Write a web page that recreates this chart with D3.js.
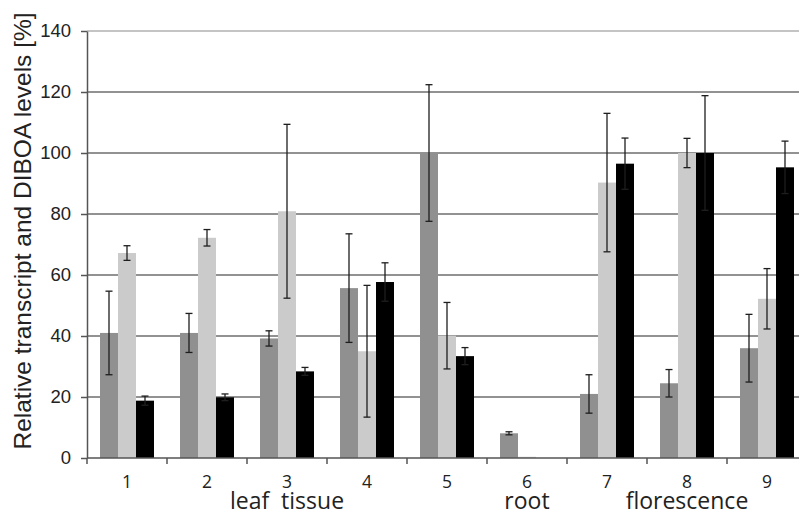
<!DOCTYPE html>
<html>
<head>
<meta charset="utf-8">
<script src="https://cdn.jsdelivr.net/npm/d3@7"></script>
<style>
  body { margin: 0; background: #fff; }
</style>
</head>
<body>
<div id="chart"></div>
<script>
var categories = ["1", "2", "3", "4", "5", "6", "7", "8", "9"];
var seriesNames = ["dark", "light", "black"];

var darkValues = [41, 41, 39.2, 55.7, 100, 8.1, 21, 24.5, 36];
var lightValues = [67.2, 72.2, 80.9, 35, 40.1, 0.4, 90.3, 100, 52.2];
var blackValues = [18.8, 19.9, 28.4, 57.7, 33.4, 0, 96.5, 100, 95.3];

var darkErrors = [13.7, 6.4, 2.5, 17.8, 22.4, 0.5, 6.3, 4.5, 11.1];
var lightErrors = [2.4, 2.7, 28.5, 21.6, 10.9, 0, 22.7, 4.8, 9.9];
var blackErrors = [1.5, 1.1, 1.3, 6.3, 2.8, 0, 8.4, 18.8, 8.6];

var yTicks = [0, 20, 40, 60, 80, 100, 120, 140];

var groupLabels = [
  { text: "leaf  tissue", cat: "3" },
  { text: "root", cat: "6" },
  { text: "florescence", cat: "8" }
];

var width = 799, height = 513;
var plotLeft = 87, plotTop = 31, plotBottom = 458, plotRight = 807;

var svg = d3.select("#chart")
  .append("svg")
  .attr("width", width)
  .attr("height", height);

var x = d3.scaleBand()
  .domain(categories)
  .range([plotLeft, plotRight])
  .paddingInner(0.325)
  .paddingOuter(0.1625);

var xs = d3.scaleBand()
  .domain(seriesNames)
  .range([0, x.bandwidth()]);

var y = d3.scaleLinear()
  .domain([0, 140])
  .range([plotBottom, plotTop]);

var color = d3.scaleOrdinal()
  .domain(seriesNames)
  .range(["#909090", "#cbcbcb", "#000000"]);

// build rows for bars
var rows = [];
categories.forEach(function(c, i) {
  rows.push({ cat: c, key: "dark", value: darkValues[i], err: darkErrors[i] });
  rows.push({ cat: c, key: "light", value: lightValues[i], err: lightErrors[i] });
  rows.push({ cat: c, key: "black", value: blackValues[i], err: blackErrors[i] });
});

// gridlines
svg.append("g")
  .selectAll("line")
  .data(yTicks.filter(function(d) { return d > 0; }))
  .enter().append("line")
  .attr("x1", plotLeft)
  .attr("x2", plotRight)
  .attr("y1", function(d) { return y(d); })
  .attr("y2", function(d) { return y(d); })
  .style("stroke", function(d) { return d === 140 ? "#b0b0b0" : "#6e6e6e"; })
  .style("stroke-width", "1.5px");

// bars
svg.append("g")
  .selectAll("rect")
  .data(rows)
  .enter().append("rect")
  .attr("x", function(d) { return x(d.cat) + xs(d.key); })
  .attr("y", function(d) { return y(d.value); })
  .attr("width", xs.bandwidth())
  .attr("height", function(d) { return y(0) - y(d.value); })
  .style("fill", function(d) { return color(d.key); });

// error bars
var errRows = rows.filter(function(d) { return d.err > 0; });
var eb = svg.append("g")
  .selectAll("g")
  .data(errRows)
  .enter().append("g")
  .attr("transform", function(d) {
    return "translate(" + (x(d.cat) + xs(d.key) + xs.bandwidth() / 2) + ",0)";
  })
  .style("stroke", "#1e1e1e")
  .style("stroke-width", "1.3px");

eb.append("line")
  .attr("y1", function(d) { return y(d.value - d.err); })
  .attr("y2", function(d) { return y(d.value + d.err); });
eb.append("line")
  .attr("x1", -3.5).attr("x2", 3.5)
  .attr("y1", function(d) { return y(d.value + d.err); })
  .attr("y2", function(d) { return y(d.value + d.err); });
eb.append("line")
  .attr("x1", -3.5).attr("x2", 3.5)
  .attr("y1", function(d) { return y(d.value - d.err); })
  .attr("y2", function(d) { return y(d.value - d.err); });

// y axis
var yAxis = svg.append("g")
  .attr("transform", "translate(" + plotLeft + ",0)")
  .call(d3.axisLeft(y).tickValues(yTicks).tickSize(6).tickSizeOuter(0).tickPadding(10));
yAxis.select(".domain").style("stroke", "#555").style("stroke-width", "1.5px");
yAxis.selectAll(".tick line").style("stroke", "#555").style("stroke-width", "1.5px");
yAxis.selectAll("text")
  .style("font-family", "Liberation Sans, Arial, sans-serif")
  .style("font-size", "18.5px")
  .style("fill", "#222");

// x axis: baseline with ticks at band boundaries
svg.append("line")
  .attr("x1", plotLeft).attr("x2", plotRight)
  .attr("y1", plotBottom).attr("y2", plotBottom)
  .style("stroke", "#555")
  .style("stroke-width", "1.5px");

svg.append("g")
  .selectAll("line")
  .data(categories)
  .enter().append("line")
  .attr("x1", function(d) { return x(d) - x.step() * x.paddingOuter(); })
  .attr("x2", function(d) { return x(d) - x.step() * x.paddingOuter(); })
  .attr("y1", plotBottom)
  .attr("y2", plotBottom + 6)
  .style("stroke", "#555")
  .style("stroke-width", "1.5px");

svg.append("g")
  .selectAll("text")
  .data(categories)
  .enter().append("text")
  .attr("x", function(d) { return x(d) + x.bandwidth() / 2; })
  .attr("y", 488)
  .attr("text-anchor", "middle")
  .text(function(d) { return d; })
  .style("font-family", "Open Sans, DejaVu Sans, sans-serif")
  .style("font-size", "17.5px")
  .style("fill", "#222");

svg.append("g")
  .selectAll("text")
  .data(groupLabels)
  .enter().append("text")
  .attr("x", function(d) { return x(d.cat) + x.bandwidth() / 2; })
  .attr("y", 509)
  .attr("text-anchor", "middle")
  .style("white-space", "pre")
  .text(function(d) { return d.text; })
  .style("font-family", "Open Sans, DejaVu Sans, sans-serif")
  .style("font-size", "23px")
  .style("fill", "#222");

// y label
svg.append("text")
  .attr("transform", "translate(31,231) rotate(-90)")
  .attr("text-anchor", "middle")
  .text("Relative transcript and DIBOA levels [%]")
  .style("font-family", "Liberation Sans, Arial, sans-serif")
  .style("font-size", "24.5px")
  .style("fill", "#222");
</script>
</body>
</html>
